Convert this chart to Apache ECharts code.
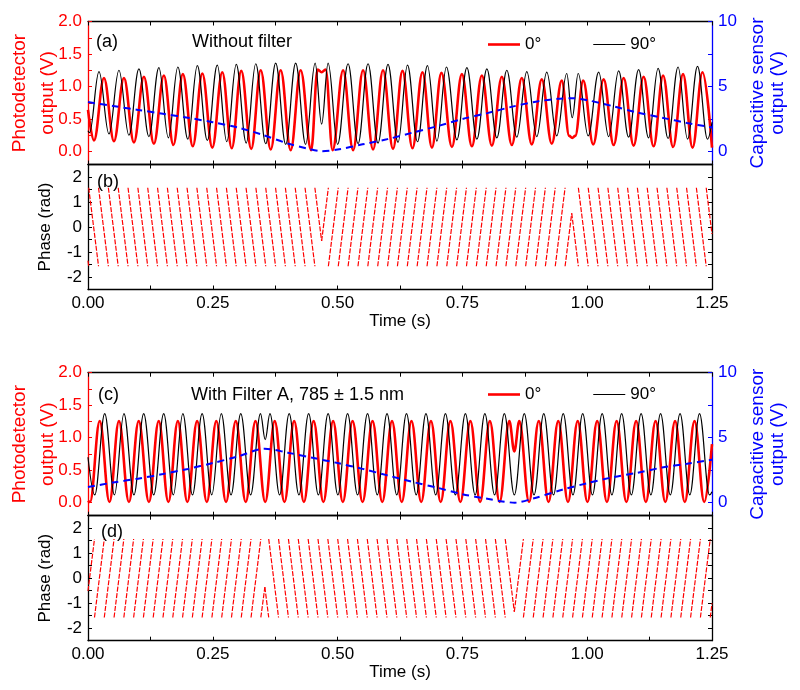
<!DOCTYPE html>
<html><head><meta charset="utf-8">
<script src="https://cdn.jsdelivr.net/npm/echarts@6/dist/echarts.min.js"></script>
<style>html,body{margin:0;padding:0;background:#fff}#c{width:800px;height:690px}</style>
</head><body><div id="c"></div>
<script>
const FONT = '"Liberation Sans", Arial, sans-serif';
const RED = '#ff0000', BLUE = '#0000ff', BLACK = '#000000';

// tick / label values
const timeLabels = [0, 0.25, 0.5, 0.75, 1.0, 1.25];
const timeTicks = [0, 0.125, 0.25, 0.375, 0.5, 0.625, 0.75, 0.875, 1.0, 1.125, 1.25];
const pdLabels = [0, 0.5, 1.0, 1.5, 2.0];
const pdTicks = [0, 0.25, 0.5, 0.75, 1.0, 1.25, 1.5, 1.75, 2.0];
const capLabels = [0, 5, 10];
const capTicks = [0, 2.5, 5, 7.5, 10];
const phaseLabels = [-2, -1, 0, 1, 2];
const phaseTicks = [-2, -1.5, -1, -0.5, 0, 0.5, 1, 1.5, 2];

// Panel (a): extrema of the 0° (red) signal, [time s, V]
const redA = [[0,0.64],[0.012,0.17],[0.032,1.13],[0.052,0.16],[0.072,1.13],[0.092,0.14],[0.112,1.15],[0.132,0.12],[0.152,1.17],[0.171,0.10],[0.190,1.19],[0.210,0.08],[0.229,1.20],[0.249,0.06],[0.269,1.22],[0.288,0.05],[0.307,1.24],[0.327,0.04],[0.346,1.25],[0.366,0.03],[0.386,1.25],[0.406,0.02],[0.426,1.25],[0.447,0.02],[0.460,1.26],[0.468,1.22],[0.476,1.26],[0.490,0.02],[0.511,1.25],[0.531,0.02],[0.551,1.25],[0.571,0.03],[0.591,1.25],[0.611,0.04],[0.630,1.24],[0.650,0.05],[0.670,1.22],[0.689,0.06],[0.708,1.21],[0.729,0.07],[0.749,1.19],[0.769,0.08],[0.789,1.17],[0.809,0.09],[0.829,1.15],[0.849,0.10],[0.869,1.13],[0.889,0.11],[0.909,1.11],[0.929,0.12],[0.949,1.09],[0.964,0.24],[0.970,0.21],[0.976,0.24],[0.992,1.09],[1.012,0.11],[1.033,1.11],[1.053,0.10],[1.073,1.13],[1.093,0.09],[1.113,1.15],[1.133,0.08],[1.152,1.17],[1.172,0.07],[1.192,1.19],[1.211,0.06],[1.231,1.22],[1.25,0.06]];
// Panel (a): extrema of the 90° (black) signal
const blackA = [[0,0.32],[0.003,0.29],[0.022,1.23],[0.042,0.27],[0.062,1.25],[0.082,0.25],[0.102,1.27],[0.122,0.23],[0.142,1.29],[0.161,0.21],[0.180,1.30],[0.200,0.19],[0.219,1.32],[0.239,0.17],[0.259,1.33],[0.278,0.15],[0.297,1.34],[0.317,0.13],[0.336,1.35],[0.356,0.12],[0.376,1.36],[0.396,0.11],[0.416,1.36],[0.436,0.11],[0.455,1.36],[0.468,0.42],[0.481,1.36],[0.500,0.11],[0.521,1.35],[0.541,0.12],[0.561,1.35],[0.581,0.13],[0.601,1.34],[0.621,0.14],[0.640,1.33],[0.660,0.15],[0.680,1.32],[0.699,0.16],[0.718,1.30],[0.739,0.18],[0.759,1.29],[0.779,0.19],[0.799,1.27],[0.819,0.21],[0.839,1.25],[0.859,0.22],[0.879,1.23],[0.899,0.23],[0.919,1.22],[0.939,0.24],[0.959,1.20],[0.970,0.52],[0.982,1.20],[1.002,0.24],[1.023,1.22],[1.043,0.23],[1.063,1.24],[1.083,0.22],[1.103,1.26],[1.123,0.21],[1.142,1.28],[1.162,0.20],[1.182,1.30],[1.201,0.19],[1.221,1.31],[1.241,0.19],[1.25,0.45]];
// Panel (a): capacitive sensor output, [time s, V]
const capA = [[0,3.8],[0.05,3.5],[0.1,3.2],[0.15,2.9],[0.2,2.6],[0.25,2.25],[0.3,1.85],[0.35,1.28],[0.4,0.62],[0.44,0.22],[0.468,0.02],[0.5,0.15],[0.55,0.55],[0.6,0.95],[0.65,1.45],[0.7,1.95],[0.75,2.5],[0.8,2.95],[0.85,3.45],[0.9,3.85],[0.94,4.05],[0.97,4.1],[1.0,3.95],[1.05,3.5],[1.1,3.0],[1.15,2.6],[1.2,2.2],[1.25,1.85]];
// Panel (b): phase ramps, [t0, phase0, t1, phase1]
const phaseB = [[0,-1.35,0.0014,-1.57],[0.0014,1.57,0.0211,-1.57],[0.0211,1.57,0.0408,-1.57],[0.0408,1.57,0.0605,-1.57],[0.0605,1.57,0.0802,-1.57],[0.0802,1.57,0.0999,-1.57],[0.0999,1.57,0.1196,-1.57],[0.1196,1.57,0.1393,-1.57],[0.1393,1.57,0.1590,-1.57],[0.1590,1.57,0.1787,-1.57],[0.1787,1.57,0.1984,-1.57],[0.1984,1.57,0.2181,-1.57],[0.2181,1.57,0.2378,-1.57],[0.2378,1.57,0.2575,-1.57],[0.2575,1.57,0.2772,-1.57],[0.2772,1.57,0.2969,-1.57],[0.2969,1.57,0.3166,-1.57],[0.3166,1.57,0.3363,-1.57],[0.3363,1.57,0.3560,-1.57],[0.3560,1.57,0.3757,-1.57],[0.3757,1.57,0.3954,-1.57],[0.3954,1.57,0.4151,-1.57],[0.4151,1.57,0.4348,-1.57],[0.4348,1.57,0.4545,-1.57],[0.4545,1.57,0.468,-0.56],[0.468,-0.56,0.4815,1.57],[0.4815,-1.57,0.5013,1.57],[0.5013,-1.57,0.5210,1.57],[0.5210,-1.57,0.5408,1.57],[0.5408,-1.57,0.5605,1.57],[0.5605,-1.57,0.5803,1.57],[0.5803,-1.57,0.6001,1.57],[0.6001,-1.57,0.6198,1.57],[0.6198,-1.57,0.6396,1.57],[0.6396,-1.57,0.6593,1.57],[0.6593,-1.57,0.6791,1.57],[0.6791,-1.57,0.6989,1.57],[0.6989,-1.57,0.7186,1.57],[0.7186,-1.57,0.7384,1.57],[0.7384,-1.57,0.7581,1.57],[0.7581,-1.57,0.7779,1.57],[0.7779,-1.57,0.7977,1.57],[0.7977,-1.57,0.8174,1.57],[0.8174,-1.57,0.8372,1.57],[0.8372,-1.57,0.8569,1.57],[0.8569,-1.57,0.8767,1.57],[0.8767,-1.57,0.8965,1.57],[0.8965,-1.57,0.9162,1.57],[0.9162,-1.57,0.9360,1.57],[0.9360,-1.57,0.9557,1.57],[0.9557,-1.57,0.969,0.55],[0.969,0.55,0.9823,-1.57],[0.9823,1.57,1.0020,-1.57],[1.0020,1.57,1.0217,-1.57],[1.0217,1.57,1.0414,-1.57],[1.0414,1.57,1.0611,-1.57],[1.0611,1.57,1.0808,-1.57],[1.0808,1.57,1.1005,-1.57],[1.1005,1.57,1.1202,-1.57],[1.1202,1.57,1.1399,-1.57],[1.1399,1.57,1.1596,-1.57],[1.1596,1.57,1.1793,-1.57],[1.1793,1.57,1.1990,-1.57],[1.1990,1.57,1.2187,-1.57],[1.2187,1.57,1.2384,-1.57],[1.2384,1.57,1.25,-0.28]];

// Panel (c)
const redC = [[0,0.03],[0.004,0.01],[0.0235,1.255],[0.043,0.01],[0.062,1.255],[0.082,0.01],[0.1016,1.255],[0.122,0.01],[0.1417,1.255],[0.161,0.01],[0.180,1.255],[0.199,0.01],[0.2186,1.255],[0.238,0.01],[0.257,1.255],[0.2765,0.01],[0.296,1.255],[0.316,0.01],[0.3355,1.255],[0.355,0.01],[0.374,1.255],[0.3935,0.01],[0.413,1.255],[0.4325,0.01],[0.452,1.255],[0.4715,0.01],[0.491,1.255],[0.5105,0.01],[0.530,1.255],[0.55,0.01],[0.570,1.255],[0.5895,0.01],[0.609,1.255],[0.6285,0.01],[0.648,1.255],[0.6675,0.01],[0.687,1.255],[0.7065,0.01],[0.726,1.255],[0.746,0.01],[0.766,1.255],[0.7855,0.01],[0.805,1.255],[0.8245,0.01],[0.844,1.255],[0.854,0.79],[0.864,1.255],[0.8835,0.01],[0.903,1.255],[0.9225,0.01],[0.942,1.255],[0.9615,0.01],[0.981,1.255],[1.0005,0.01],[1.020,1.255],[1.0395,0.01],[1.059,1.255],[1.0785,0.01],[1.098,1.255],[1.1175,0.01],[1.137,1.255],[1.1565,0.01],[1.176,1.255],[1.1955,0.01],[1.215,1.255],[1.2345,0.01],[1.25,0.9]];
const blackC = [[0,0.7],[0.0135,0.12],[0.0335,1.37],[0.053,0.12],[0.072,1.37],[0.092,0.12],[0.1116,1.37],[0.1316,0.12],[0.1517,1.37],[0.171,0.12],[0.190,1.37],[0.2093,0.12],[0.2286,1.37],[0.248,0.12],[0.267,1.37],[0.2865,0.12],[0.306,1.37],[0.3258,0.12],[0.3455,1.37],[0.355,0.97],[0.3645,1.37],[0.3838,0.12],[0.403,1.37],[0.4225,0.12],[0.442,1.37],[0.4615,0.12],[0.481,1.37],[0.5005,0.12],[0.520,1.37],[0.540,0.12],[0.560,1.37],[0.5795,0.12],[0.599,1.37],[0.6185,0.12],[0.638,1.37],[0.6575,0.12],[0.677,1.37],[0.6965,0.12],[0.716,1.37],[0.736,0.12],[0.756,1.37],[0.7755,0.12],[0.795,1.37],[0.8145,0.12],[0.834,1.37],[0.854,0.12],[0.874,1.37],[0.8935,0.12],[0.913,1.37],[0.9325,0.12],[0.952,1.37],[0.9715,0.12],[0.991,1.37],[1.0105,0.12],[1.030,1.37],[1.0495,0.12],[1.069,1.37],[1.0885,0.12],[1.108,1.37],[1.1275,0.12],[1.147,1.37],[1.1665,0.12],[1.186,1.37],[1.2055,0.12],[1.225,1.37],[1.245,0.12],[1.25,0.17]];
const capC = [[0,1.2],[0.05,1.55],[0.1,1.85],[0.15,2.2],[0.2,2.6],[0.25,3.05],[0.3,3.55],[0.354,4.15],[0.4,3.85],[0.45,3.45],[0.5,3.05],[0.55,2.6],[0.6,2.1],[0.65,1.6],[0.7,1.15],[0.75,0.65],[0.8,0.3],[0.83,0.1],[0.855,0.0],[0.89,0.3],[0.95,1.0],[1.0,1.5],[1.05,1.95],[1.1,2.3],[1.15,2.7],[1.2,3.0],[1.25,3.3]];
// Panel (d)
const phaseD = [[0,-0.51,0.0130,1.57],[0.0130,-1.57,0.0326,1.57],[0.0326,-1.57,0.0522,1.57],[0.0522,-1.57,0.0718,1.57],[0.0718,-1.57,0.0914,1.57],[0.0914,-1.57,0.1110,1.57],[0.1110,-1.57,0.1306,1.57],[0.1306,-1.57,0.1502,1.57],[0.1502,-1.57,0.1698,1.57],[0.1698,-1.57,0.1894,1.57],[0.1894,-1.57,0.2090,1.57],[0.2090,-1.57,0.2286,1.57],[0.2286,-1.57,0.2482,1.57],[0.2482,-1.57,0.2678,1.57],[0.2678,-1.57,0.2874,1.57],[0.2874,-1.57,0.3070,1.57],[0.3070,-1.57,0.3266,1.57],[0.3266,-1.57,0.3462,1.57],[0.3462,-1.57,0.3543,-0.36],[0.3543,-0.36,0.3620,-1.57],[0.3620,1.57,0.3817,-1.57],[0.3817,1.57,0.4015,-1.57],[0.4015,1.57,0.4212,-1.57],[0.4212,1.57,0.4410,-1.57],[0.4410,1.57,0.4607,-1.57],[0.4607,1.57,0.4804,-1.57],[0.4804,1.57,0.5002,-1.57],[0.5002,1.57,0.5199,-1.57],[0.5199,1.57,0.5397,-1.57],[0.5397,1.57,0.5594,-1.57],[0.5594,1.57,0.5791,-1.57],[0.5791,1.57,0.5989,-1.57],[0.5989,1.57,0.6186,-1.57],[0.6186,1.57,0.6384,-1.57],[0.6384,1.57,0.6581,-1.57],[0.6581,1.57,0.6778,-1.57],[0.6778,1.57,0.6976,-1.57],[0.6976,1.57,0.7173,-1.57],[0.7173,1.57,0.7371,-1.57],[0.7371,1.57,0.7568,-1.57],[0.7568,1.57,0.7765,-1.57],[0.7765,1.57,0.7963,-1.57],[0.7963,1.57,0.8160,-1.57],[0.8160,1.57,0.8358,-1.57],[0.8358,1.57,0.854,-1.34],[0.854,-1.34,0.8722,1.57],[0.8722,-1.57,0.8919,1.57],[0.8919,-1.57,0.9116,1.57],[0.9116,-1.57,0.9313,1.57],[0.9313,-1.57,0.9510,1.57],[0.9510,-1.57,0.9707,1.57],[0.9707,-1.57,0.9904,1.57],[0.9904,-1.57,1.0101,1.57],[1.0101,-1.57,1.0298,1.57],[1.0298,-1.57,1.0495,1.57],[1.0495,-1.57,1.0692,1.57],[1.0692,-1.57,1.0889,1.57],[1.0889,-1.57,1.1086,1.57],[1.1086,-1.57,1.1283,1.57],[1.1283,-1.57,1.1480,1.57],[1.1480,-1.57,1.1677,1.57],[1.1677,-1.57,1.1874,1.57],[1.1874,-1.57,1.2071,1.57],[1.2071,-1.57,1.2268,1.57],[1.2268,-1.57,1.2465,1.57],[1.2465,-1.57,1.25,-1.0]];

const legendNames = ['0°', '90°'];
const titleA = 'Without filter';
const titleC = 'With Filter A, 785 ± 1.5 nm';

function xAx(grid, pos, withLabels) {
  return {
    type: 'value', gridIndex: grid, position: pos, min: 0, max: 1.25,
    axisLine: { show: true, onZero: false, lineStyle: { color: BLACK, width: 1.3 } },
    axisTick: { show: true, inside: true, length: 4, customValues: timeTicks, lineStyle: { color: BLACK, width: 1 } },
    axisLabel: { show: withLabels, customValues: timeLabels, formatter: v => v.toFixed(2), color: BLACK, fontSize: 17, fontFamily: FONT, margin: 5 },
    splitLine: { show: false },
    name: withLabels ? 'Time (s)' : '', nameLocation: 'middle', nameGap: 23, nameMoveOverlap: false,
    nameTextStyle: { color: BLACK, fontSize: 17, fontFamily: FONT }
  };
}
function yAx(grid, pos, opt) {
  return {
    type: 'value', gridIndex: grid, position: pos, min: opt.min, max: opt.max,
    axisLine: { show: true, onZero: false, lineStyle: { color: opt.color, width: 1.3 } },
    axisTick: { show: true, inside: true, length: 4, customValues: opt.ticks, lineStyle: { color: opt.color, width: 1 } },
    axisLabel: { show: !!opt.labels, customValues: opt.labels || opt.ticks, formatter: opt.fmt, color: opt.color, fontSize: 17, fontFamily: FONT, margin: 6 },
    splitLine: { show: false },
    name: opt.name || '', nameLocation: 'middle', nameGap: opt.gap || 34, nameRotate: 90, nameMoveOverlap: false,
    nameTextStyle: { color: opt.color, fontSize: opt.nameSize || 19, lineHeight: opt.lh || 27, fontFamily: FONT }
  };
}
const pdOpt = { min: -0.2, max: 2.0, color: RED, ticks: pdTicks, labels: pdLabels, fmt: v => v.toFixed(1), name: 'Photodetector\noutput (V)', gap: 26, lh: 28 };
const capOpt = { min: -1, max: 10, color: BLUE, ticks: capTicks, labels: capLabels, fmt: v => String(v), name: 'Capacitive sensor\noutput (V)', gap: 36, lh: 20 };
const phOpt = { min: -2.5, max: 2.5, color: BLACK, ticks: phaseTicks, labels: phaseLabels, fmt: v => String(v), name: 'Phase (rad)', gap: 29, nameSize: 17 };
const phOptR = { min: -2.5, max: 2.5, color: BLACK, ticks: phaseTicks };

function waveSeries(name, data, xi, yi, color, width, z) {
  return { type: 'line', name: name, xAxisIndex: xi, yAxisIndex: yi, data: data, smooth: 0.38, smoothMonotone: 'x',
    symbol: 'none', showSymbol: false, lineStyle: { color: color, width: width }, itemStyle: { color: color }, z: z, silent: true };
}
function capSeries(data, xi, yi) {
  return { type: 'line', xAxisIndex: xi, yAxisIndex: yi, data: data, smooth: 0.3, symbol: 'none', showSymbol: false,
    lineStyle: { color: BLUE, width: 2, type: [7, 5] }, z: 5, silent: true };
}
function phaseSeries(segs, xi, yi) {
  return { type: 'lines', coordinateSystem: 'cartesian2d', xAxisIndex: xi, yAxisIndex: yi, polyline: false,
    data: segs.map(s => ({ coords: [[s[0], s[1]], [s[2], s[3]]] })),
    lineStyle: { color: RED, width: 1.2, type: [5, 1.5], opacity: 1, curveness: 0 }, silent: true, z: 3 };
}
function legendAt(top) {
  return {
    data: [
      { name: legendNames[0], icon: 'path://M0,0H32V2.6H0Z', itemStyle: { color: RED } },
      { name: legendNames[1], icon: 'path://M0,0H32V1.2H0Z', itemStyle: { color: BLACK } }
    ],
    left: 488, top: top, padding: 0, orient: 'horizontal', itemWidth: 32, itemHeight: 12, itemGap: 52,
    symbolKeepAspect: true,
    textStyle: { fontSize: 17, fontFamily: FONT, color: BLACK }, selectedMode: false
  };
}
function label(text, x, y, size) {
  return { type: 'text', x: x, y: y, style: { text: text, fontSize: size, fontFamily: FONT, fill: BLACK, textVerticalAlign: 'middle', verticalAlign: 'middle' }, z: 10 };
}

const chart = echarts.init(document.getElementById('c'), null, { renderer: 'canvas' });
chart.setOption({
  animation: false,
  backgroundColor: '#ffffff',
  textStyle: { fontFamily: FONT },
  grid: [
    { left: 88, right: 88, top: 21.5, height: 143, containLabel: false, outerBoundsMode: 'none' },
    { left: 88, right: 88, top: 164.5, height: 125, containLabel: false, outerBoundsMode: 'none' },
    { left: 88, right: 88, top: 372.7, height: 143, containLabel: false, outerBoundsMode: 'none' },
    { left: 88, right: 88, top: 515.7, height: 125, containLabel: false, outerBoundsMode: 'none' }
  ],
  xAxis: [xAx(0, 'bottom', false), xAx(0, 'top', false), xAx(1, 'bottom', true), xAx(1, 'top', false),
          xAx(2, 'bottom', false), xAx(2, 'top', false), xAx(3, 'bottom', true), xAx(3, 'top', false)],
  yAxis: [yAx(0, 'left', pdOpt), yAx(0, 'right', capOpt), yAx(1, 'left', phOpt), yAx(1, 'right', phOptR),
          yAx(2, 'left', pdOpt), yAx(2, 'right', capOpt), yAx(3, 'left', phOpt), yAx(3, 'right', phOptR)],
  legend: [legendAt(36), legendAt(386)],
  series: [
    waveSeries('0°', redA, 0, 0, RED, 2.6, 2),
    waveSeries('90°', blackA, 0, 0, BLACK, 1.2, 3),
    capSeries(capA, 0, 1),
    phaseSeries(phaseB, 2, 2),
    waveSeries('0°', redC, 4, 4, RED, 2.6, 2),
    waveSeries('90°', blackC, 4, 4, BLACK, 1.2, 3),
    capSeries(capC, 4, 5),
    phaseSeries(phaseD, 6, 6)
  ],
  graphic: [
    label('(a)', 96, 42, 18), label(titleA, 192, 42, 18),
    label('(b)', 97, 182, 18),
    label('(c)', 98, 395, 18), label(titleC, 191, 395, 18),
    label('(d)', 101, 532, 18)
  ]
});
</script></body></html>
